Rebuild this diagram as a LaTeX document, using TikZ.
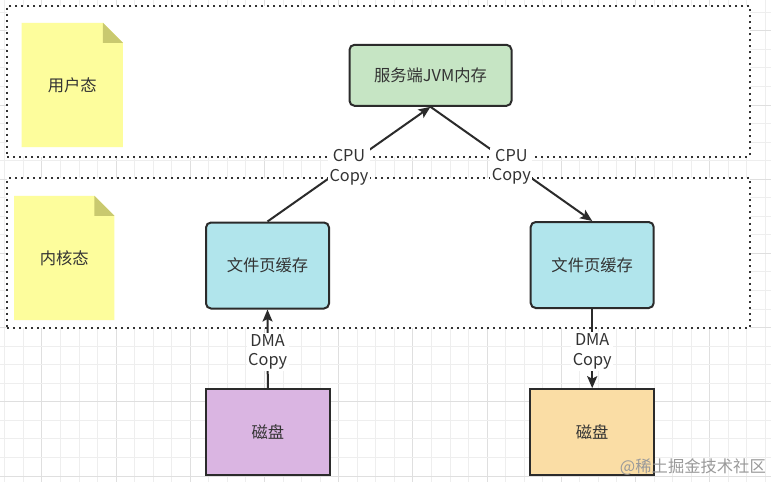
\documentclass[tikz,border=0pt]{standalone}
\usepackage{fontspec}
\setmainfont{Noto Sans CJK SC}
\usetikzlibrary{arrows.meta,backgrounds}
\definecolor{ink}{HTML}{2B2B2B}
\definecolor{txtc}{HTML}{333333}
\definecolor{dotc}{HTML}{333333}
\definecolor{gridmin}{HTML}{EEEEEE}
\definecolor{gridmaj}{HTML}{DFDFDF}
\definecolor{notec}{HTML}{FDFD9C}
\definecolor{foldc}{HTML}{C9C96F}
\definecolor{jvmc}{HTML}{C6E5C4}
\definecolor{cachec}{HTML}{B1E5EC}
\definecolor{diskp}{HTML}{DAB5E2}
\definecolor{disko}{HTML}{FADDA5}
\definecolor{wmc}{HTML}{9A9A9A}
\begin{document}
\begin{tikzpicture}[x=1pt,y=-1pt,
  txt/.style={font=\fontsize{16.3}{19.5}\selectfont, text=txtc},
  rbox/.style={txt, draw=ink, line width=2pt, rounded corners=5pt, minimum width=123pt, minimum height=86pt},
  diskbox/.style={txt, draw=ink, line width=2pt, minimum width=124pt, minimum height=86pt},
  notebox/.style={txt, minimum width=101pt, minimum height=124pt, inner sep=0pt},
  zone/.style={draw=dotc, line width=2pt, dash pattern=on 2pt off 4pt, fill=white, inner sep=0pt},
  flow/.style={draw=ink, line width=2pt, -{Stealth[length=12pt,width=10pt,inset=2.5pt]}},
  lbl/.style={txt, fill=white, inner sep=1.5pt, align=center, yshift=-3pt},
  gmin/.style={draw=gridmin, line width=0.8pt},
  gmaj/.style={draw=gridmaj, line width=0.8pt}
]
\useasboundingbox (0,0) rectangle (771,482);

% notes (text only; shapes on background)
\node[notebox] (nu) at (72.2,85) {用户态};
\node[notebox, minimum width=100pt] (nk) at (64.2,258) {内核态};

% boxes
\node[rbox, fill=jvmc, minimum width=162pt, minimum height=61pt] (jvm) at (430.5,75.3) {服务端JVM内存};
\node[rbox, fill=cachec] (fl) at (267.5,265.5) {文件页缓存};
\node[rbox, fill=cachec] (fr) at (592.2,265) {文件页缓存};
\node[diskbox, fill=diskp] (dl) at (267.8,432.2) {磁盘};
\node[diskbox, fill=disko] (dr) at (592.2,432.2) {磁盘};

% connectors
\draw[flow] (fl.north) -- node[lbl] (l1) {CPU\\Copy} (jvm.south);
\draw[flow] (jvm.south) -- node[lbl] (l2) {CPU\\Copy} (fr.north);
\draw[flow] (dl.north) -- node[lbl] (l3) {DMA\\Copy} (fl.south);
\draw[flow] (fr.south) -- node[lbl] (l4) {DMA\\Copy} (dr.north);

% watermark
\node[font=\fontsize{16.3}{19}\selectfont, text=wmc, anchor=east, inner sep=0pt] (wm) at (766,467) {@稀土掘金技术社区};

\begin{scope}[on background layer]
  \fill[white] (0,0) rectangle (771,482);
  \foreach \k in {0,...,41} {
    \pgfmathsetmacro\gx{116+18.55*(\k-6)}
    \pgfmathtruncatemacro\m{mod(\k+2,4)}
    \ifnum\m=0 \draw[gmaj] (\gx,0) -- (\gx,482); \else \draw[gmin] (\gx,0) -- (\gx,482); \fi
  }
  \foreach \k in {0,...,26} {
    \pgfmathsetmacro\gy{401.7+18.55*(\k-21)}
    \pgfmathtruncatemacro\m{mod(\k+3,4)}
    \ifnum\m=0 \draw[gmaj] (0,\gy) -- (771,\gy); \else \draw[gmin] (0,\gy) -- (771,\gy); \fi
  }
  \node[zone, minimum width=742.7pt, minimum height=150.7pt] (uz) at (378.7,81.3) {};
  \node[zone, minimum width=742.7pt, minimum height=150pt] (kz) at (378.7,253.3) {};
  \foreach \n in {nu,nk} {
    \fill[notec] (\n.north west) -- ([xshift=-20pt]\n.north east) -- ([yshift=-20pt]\n.north east) -- (\n.south east) -- (\n.south west) -- cycle;
    \fill[foldc] ([xshift=-20pt]\n.north east) -- ([xshift=-20pt,yshift=-20pt]\n.north east) -- ([yshift=-20pt]\n.north east) -- cycle;
  }
\end{scope}
\end{tikzpicture}
\end{document}
